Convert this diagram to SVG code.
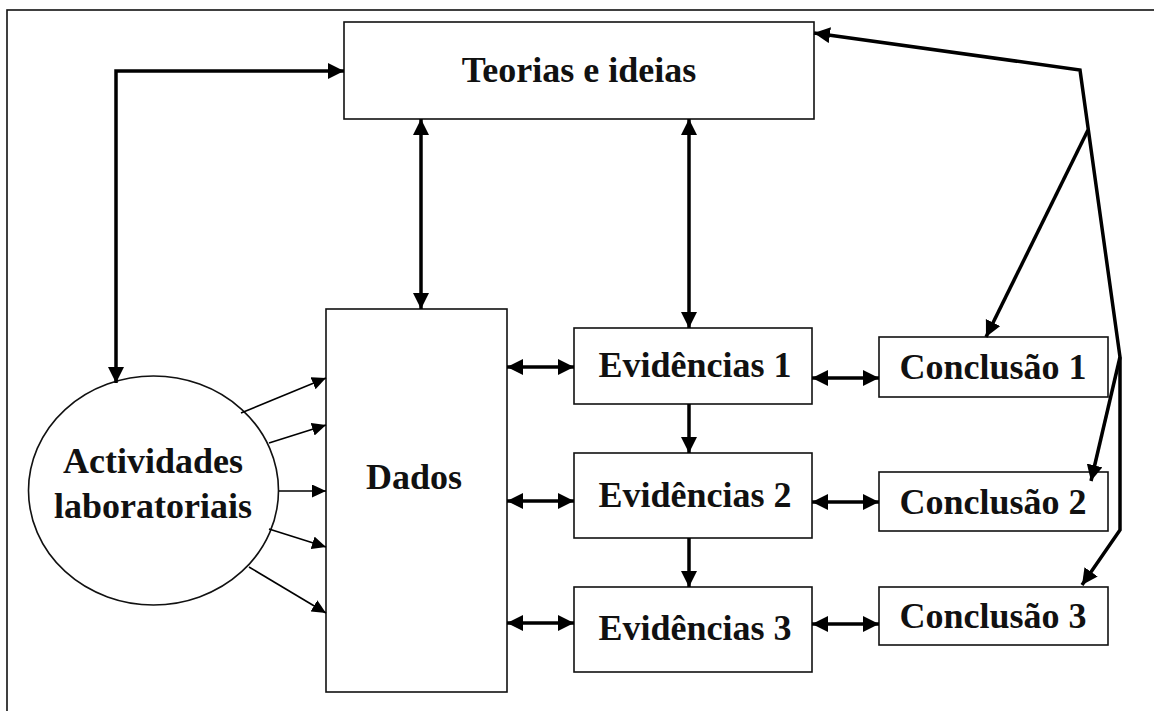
<svg xmlns="http://www.w3.org/2000/svg" width="1154" height="711" viewBox="0 0 1154 711">
<style>
.box{fill:#fff;stroke:#111;stroke-width:1.6}
.lbl{font-family:"Liberation Serif","Times New Roman",serif;font-weight:700;font-size:36px;fill:#111;text-anchor:middle}
.thick{fill:none;stroke:#000;stroke-width:3.5;stroke-linejoin:miter}
.thin{fill:none;stroke:#000;stroke-width:1.6}
</style>
<defs>
<marker id="ah" markerUnits="userSpaceOnUse" markerWidth="17" markerHeight="17" refX="16" refY="8" orient="auto-start-reverse" viewBox="0 0 17 17">
<path d="M0,0 L16,8 L0,16 z" fill="#000"/>
</marker>
<marker id="ahs" markerUnits="userSpaceOnUse" markerWidth="15" markerHeight="14" refX="14" refY="6.5" orient="auto" viewBox="0 0 15 14">
<path d="M0,0 L14,6.5 L0,13 z" fill="#000"/>
</marker>
</defs>
<rect x="7" y="10" width="1300" height="900" fill="none" stroke="#111" stroke-width="1.6"/>
<g id="teorias"><rect class="box" x="344" y="22" width="470" height="97"/><text class="lbl" x="579" y="82">Teorias e ideias</text></g>
<g id="dados"><rect class="box" x="326" y="309" width="181" height="383"/><text class="lbl" x="414" y="489">Dados</text></g>
<g id="actividades"><ellipse class="box" cx="153.5" cy="490.5" rx="125" ry="114.5"/><text class="lbl" x="153" y="473">Actividades</text><text class="lbl" x="153" y="518">laboratoriais</text></g>
<g id="evid1"><rect class="box" x="574" y="328" width="238" height="76"/><text class="lbl" x="695" y="377">Evidências 1</text></g>
<g id="evid2"><rect class="box" x="574" y="453" width="238" height="85"/><text class="lbl" x="695" y="507">Evidências 2</text></g>
<g id="evid3"><rect class="box" x="574" y="587" width="238" height="85"/><text class="lbl" x="695" y="640">Evidências 3</text></g>
<g id="concl1"><rect class="box" x="879" y="337" width="229" height="60"/><text class="lbl" x="993" y="379">Conclusão 1</text></g>
<g id="concl2"><rect class="box" x="879" y="472" width="229" height="59"/><text class="lbl" x="993" y="514">Conclusão 2</text></g>
<g id="concl3"><rect class="box" x="879" y="587" width="229" height="58"/><text class="lbl" x="993" y="628">Conclusão 3</text></g>
<g id="connectors">
<path class="thick" d="M116,383 L116,71 L344,71" marker-start="url(#ah)" marker-end="url(#ah)"/>
<path class="thick" d="M421,119 L421,309" marker-start="url(#ah)" marker-end="url(#ah)"/>
<path class="thick" d="M689,119 L689,328" marker-start="url(#ah)" marker-end="url(#ah)"/>
<path class="thick" d="M689,404 L689,453" marker-end="url(#ah)"/>
<path class="thick" d="M689,538 L689,587" marker-end="url(#ah)"/>
<path class="thick" d="M507,367 L574,367" marker-start="url(#ah)" marker-end="url(#ah)"/>
<path class="thick" d="M507,501 L574,501" marker-start="url(#ah)" marker-end="url(#ah)"/>
<path class="thick" d="M507,623 L574,623" marker-start="url(#ah)" marker-end="url(#ah)"/>
<path class="thick" d="M812,378 L879,378" marker-start="url(#ah)" marker-end="url(#ah)"/>
<path class="thick" d="M812,502 L879,502" marker-start="url(#ah)" marker-end="url(#ah)"/>
<path class="thick" d="M812,624 L879,624" marker-start="url(#ah)" marker-end="url(#ah)"/>
<path class="thick" d="M814,33 L1080,70 L1120,357 L1120,530 L1082,585" marker-start="url(#ah)" marker-end="url(#ah)"/>
<path class="thick" d="M1088,130 L986,337" marker-end="url(#ah)"/>
<path class="thick" d="M1120,357 L1091,481" marker-end="url(#ah)"/>
<path class="thin" d="M241,413 L326,378" marker-end="url(#ahs)"/>
<path class="thin" d="M269,443 L326,425" marker-end="url(#ahs)"/>
<path class="thin" d="M279,491 L326,491" marker-end="url(#ahs)"/>
<path class="thin" d="M269,529 L326,547" marker-end="url(#ahs)"/>
<path class="thin" d="M249,567 L326,613" marker-end="url(#ahs)"/>
</g>
</svg>
